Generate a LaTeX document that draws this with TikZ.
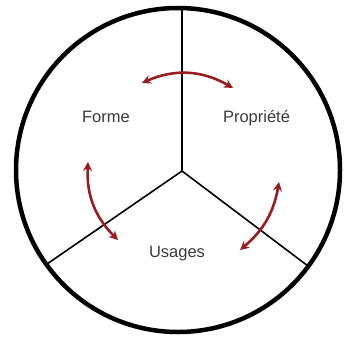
\documentclass[tikz,border=0pt]{standalone}
\usepackage{fontspec}
\setmainfont{Liberation Sans}
\usepackage{xcolor}
\definecolor{cLink}{HTML}{9B1B21}
\definecolor{cText}{HTML}{3A3A3A}
\usetikzlibrary{arrows.meta}
\tikzset{
  ring/.style={draw=black,line width=4.5pt},
  spoke/.style={draw=black,line width=1.6pt},
  node-label/.style={text=cText,font=\fontsize{16.5}{20}\selectfont,
    inner sep=0pt,anchor=base},
  arrow-link/.style={{Stealth[length=9pt,width=9pt]}-{Stealth[length=9pt,width=9pt]},
    line width=2.6pt,draw=cLink},
}

\begin{document}
\begin{tikzpicture}[x=1pt,y=-1pt]
  \useasboundingbox (0,0) rectangle (344,340);
  % cercle et rayons
  \coordinate (hub) at (182,171);
  \draw[ring] (178,170) circle[radius=162pt];
  \draw[spoke] (hub) -- (182,8);
  \draw[spoke] (hub) -- (47,264);
  \draw[spoke] (hub) -- (308,266);
  % libelles
  \node[node-label] (forme) at (106,122.7) {Forme};
  \node[node-label] (prop)  at (256.5,122.5) {Propriété};
  \node[node-label] (usage) at (177,257.7) {Usages};
  % fleches entre les trois poles
  \coordinate (fp-a) at (142,83);  \coordinate (fp-b) at (233,88);
  \coordinate (fu-a) at (88,162);  \coordinate (fu-b) at (118,240);
  \coordinate (pu-a) at (279,182); \coordinate (pu-b) at (240,250);
  \draw[arrow-link] (fp-a) to[bend left=27] (fp-b);
  \draw[arrow-link] (fu-a) to[bend right=24] (fu-b);
  \draw[arrow-link] (pu-a) to[bend left=20] (pu-b);
\end{tikzpicture}
\end{document}
